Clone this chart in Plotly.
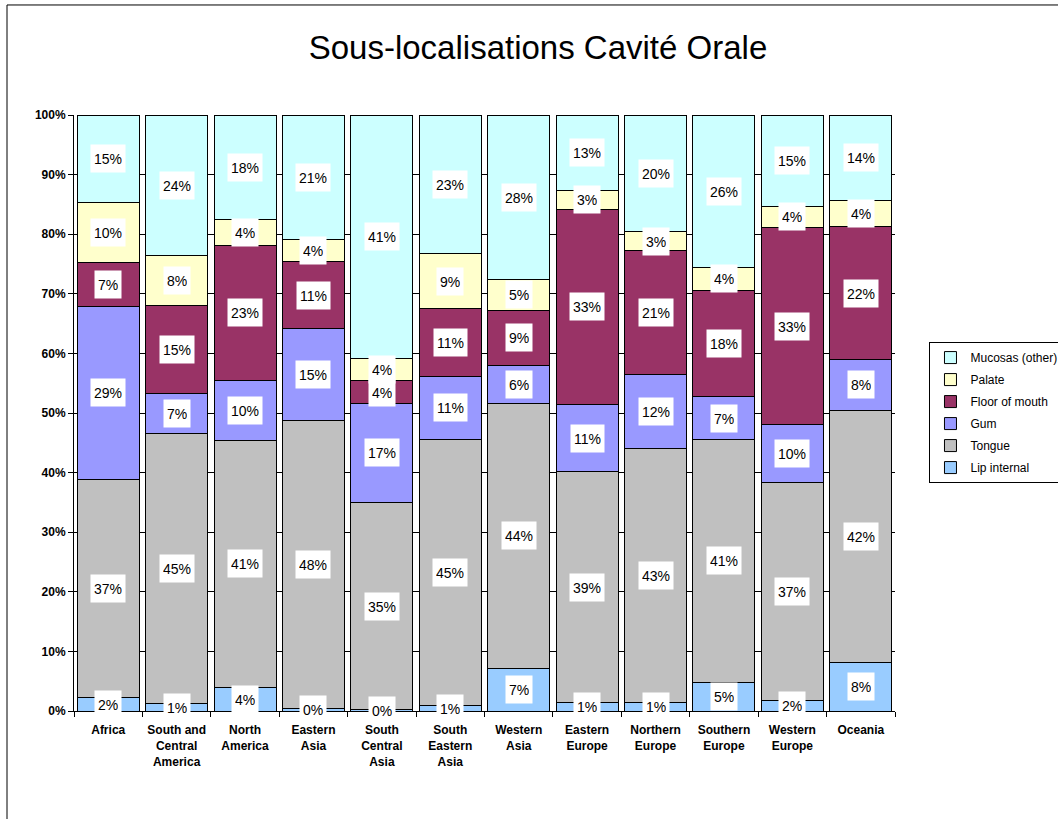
import plotly.graph_objects as go

categories = ["Africa", "South and<br>Central<br>America", "North<br>America", "Eastern<br>Asia",
              "South<br>Central<br>Asia", "South<br>Eastern<br>Asia", "Western<br>Asia", "Eastern<br>Europe",
              "Northern<br>Europe", "Southern<br>Europe", "Western<br>Europe", "Oceania"]

lip_internal = [2.3, 1.3, 4.0, 0.4, 0.2, 0.9, 7.2, 1.4, 1.4, 4.8, 1.7, 8.1]
tongue       = [36.6, 45.3, 41.4, 48.4, 34.8, 44.6, 44.4, 38.8, 42.7, 40.8, 36.6, 42.4]
gum          = [29.0, 6.7, 10.1, 15.3, 16.6, 10.7, 6.4, 11.2, 12.4, 7.1, 9.7, 8.4]
floor_mouth  = [7.4, 14.8, 22.6, 11.3, 3.8, 11.3, 9.2, 32.8, 20.8, 17.9, 33.1, 22.4]
palate       = [10.1, 8.3, 4.3, 3.7, 3.7, 9.2, 5.2, 3.2, 3.1, 3.8, 3.6, 4.4]
mucosas      = [14.6, 23.6, 17.6, 20.9, 40.9, 23.3, 27.6, 12.6, 19.6, 25.6, 15.3, 14.3]

series = [
    ("Lip internal", lip_internal, "#99CCFF"),
    ("Tongue", tongue, "#C0C0C0"),
    ("Gum", gum, "#9999FF"),
    ("Floor of mouth", floor_mouth, "#993366"),
    ("Palate", palate, "#FFFFCC"),
    ("Mucosas (other)", mucosas, "#CCFFFF"),
]

FONT = "Liberation Sans, Arial, sans-serif"

fig = go.Figure()
annotations = []
base = [0.0] * len(categories)
for k, (name, vals, color) in enumerate(series):
    fig.add_trace(go.Bar(
        x=categories, y=vals, name=name, legendgroup=name,
        legendrank=1000 - k,
        marker=dict(color=color, line=dict(color="#000000", width=1)),
    ))
    for i, v in enumerate(vals):
        annotations.append(dict(
            x=categories[i], y=base[i] + v / 2, xref="x", yref="y",
            text=f"{v:.0f}%", showarrow=False, valign="middle",
            font=dict(family=FONT, size=14, color="#000000"),
            bgcolor="#FFFFFF", borderpad=3, height=21,
        ))
        base[i] += v

fig.update_layout(
    barmode="stack",
    bargap=0.094,
    width=1058, height=819,
    margin=dict(l=74, r=163, t=115, b=108, autoexpand=False),
    paper_bgcolor="#FFFFFF", plot_bgcolor="#FFFFFF",
    font=dict(family=FONT, color="#000000"),
    title=dict(text="Sous-localisations Cavité Orale", x=0.5085, xref="container",
               y=0.9426, yref="container", xanchor="center", yanchor="middle",
               font=dict(family=FONT, size=33, color="#000000")),
    legend=dict(traceorder="grouped", x=1.042, y=0.619, xanchor="left", yanchor="top",
                bordercolor="#000000", borderwidth=1, bgcolor="#FFFFFF", tracegroupgap=3,
                font=dict(family=FONT, size=12, color="#000000")),
    annotations=annotations,
    shapes=[dict(type="rect", xref="paper", yref="paper", x0=-0.0816, y0=-0.3, x1=1.3, y1=1.1846,
                 line=dict(color="#000000", width=1), fillcolor="rgba(0,0,0,0)", layer="below")],
    showlegend=True,
)
fig.update_yaxes(range=[0, 100], dtick=10, ticksuffix="%", showgrid=True, gridcolor="#000000",
                 gridwidth=1, zeroline=False, showline=True, linecolor="#000000", linewidth=1,
                 ticks="outside", ticklen=5, tickcolor="#000000", automargin=False,
                 tickfont=dict(family=FONT, size=12, color="#000000", weight="bold"))
fig.update_xaxes(showline=True, linecolor="#000000", linewidth=1, ticks="outside", ticklen=5,
                 tickcolor="#000000", tickson="boundaries", showgrid=False, tickangle=0,
                 automargin=False, ticklabelstandoff=8,
                 tickfont=dict(family=FONT, size=12, color="#000000", weight="bold"))

fig.write_html("out.html", config={"displayModeBar": False},
               post_script="document.body.style.margin='0px';")
